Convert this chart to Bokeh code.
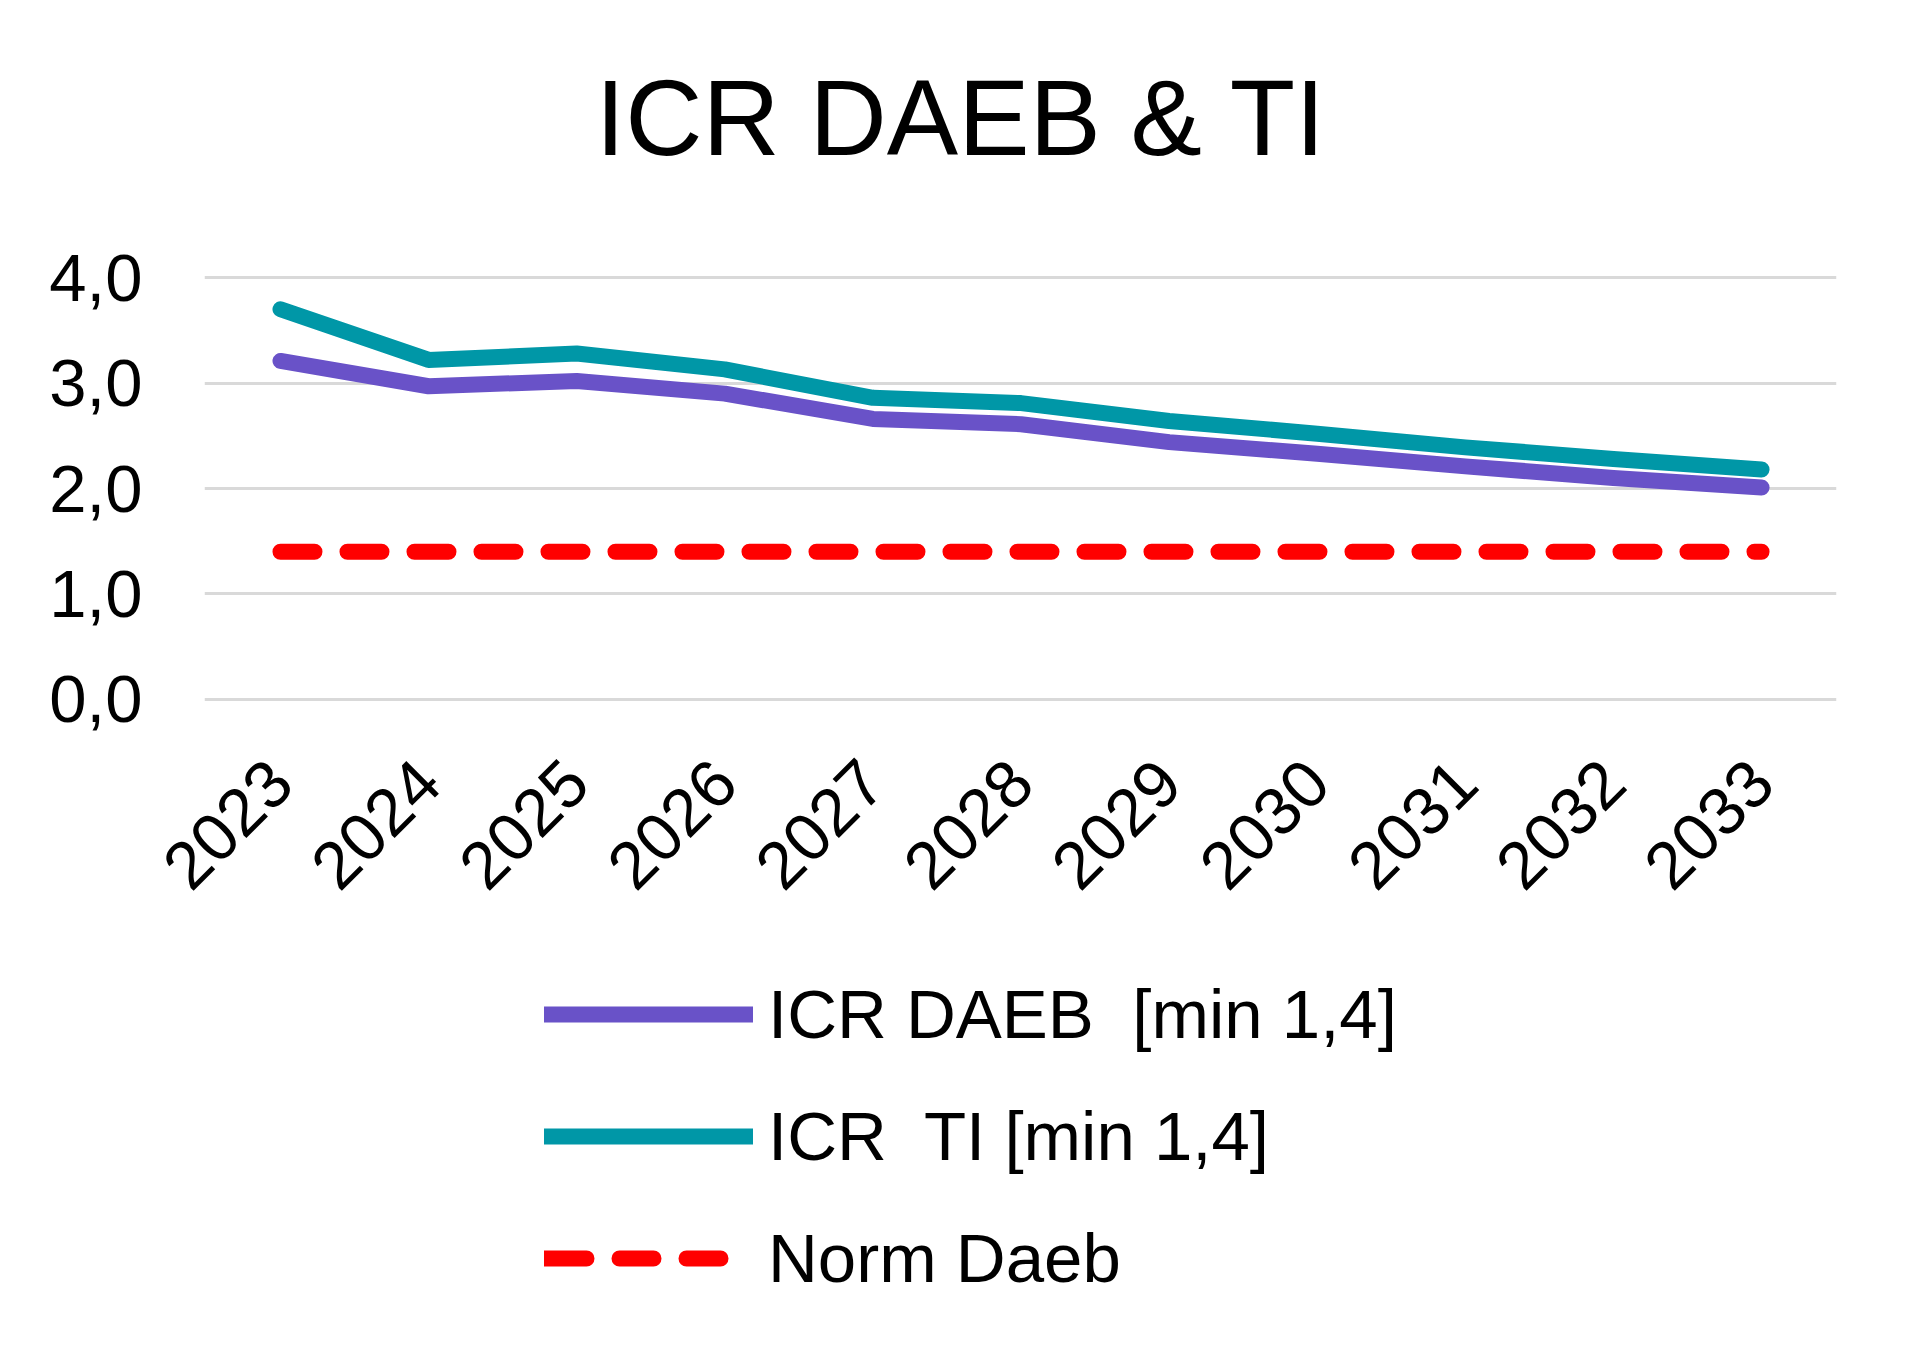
import math
from bokeh.plotting import figure
from bokeh.layouts import column
from bokeh.models import Range1d, FixedTicker, CustomJSTickFormatter, Legend, LegendItem, Title
from bokeh.embed import file_html
from bokeh.resources import INLINE

years = [2023, 2024, 2025, 2026, 2027, 2028, 2029, 2030, 2031, 2032, 2033]
icr_daeb = [3.21, 2.97, 3.02, 2.90, 2.66, 2.61, 2.44, 2.33, 2.21, 2.10, 2.01]
icr_ti = [3.70, 3.22, 3.28, 3.13, 2.86, 2.81, 2.64, 2.52, 2.39, 2.28, 2.18]
norm_daeb = [1.4] * len(years)
series_names = ["ICR DAEB  [min 1,4]", "ICR  TI [min 1,4]", "Norm Daeb"]
y_ticks = [0, 1, 2, 3, 4]
title_text = "ICR DAEB & TI"

FONT = "Liberation Sans"
PURPLE = "#6952c8"
TEAL = "#0097a7"
RED = "#ff0000"

W = 1904
H1, H2 = 960, 378
left, right, top, bottom = 204, 1836, 274, 702

p = figure(width=W, height=H1, output_backend="svg", toolbar_location=None, title=None,
           x_range=Range1d(2022.487, 2033.506), y_range=Range1d(-0.03, 4.03),
           min_border_left=left, min_border_right=W - right,
           min_border_top=top, min_border_bottom=H1 - bottom)
p.outline_line_color = None
p.background_fill_color = "white"
p.border_fill_color = "white"

# spacer between frame and title, then the title itself
p.add_layout(Title(text=" ", text_font_size="1px", standoff=94), "above")
p.add_layout(Title(text=title_text, text_font=FONT, text_font_size="107px",
                   text_font_style="normal", text_color="black",
                   align="left", offset=391, standoff=0), "above")

line_styles = [
    dict(line_width=16, line_color=PURPLE, line_cap="round", line_join="round"),
    dict(line_width=16, line_color=TEAL, line_cap="round", line_join="round"),
    dict(line_width=16, line_color=RED, line_cap="round", line_dash="34 33"),
]
p.line(years, icr_daeb, **line_styles[0])
p.line(years, icr_ti, **line_styles[1])
p.line(years, norm_daeb, **line_styles[2])

p.xaxis.ticker = FixedTicker(ticks=years)
p.xaxis.major_label_orientation = math.pi / 4
p.xaxis.major_label_standoff = 69
p.yaxis.ticker = FixedTicker(ticks=y_ticks)
p.yaxis.formatter = CustomJSTickFormatter(code="return tick.toFixed(1).replace('.', ',');")
p.yaxis.major_label_standoff = 62
for ax in (p.xaxis[0], p.yaxis[0]):
    ax.axis_line_color = None
    ax.major_tick_line_color = None
    ax.minor_tick_line_color = None
    ax.major_tick_out = 0
    ax.major_tick_in = 0
    ax.major_label_text_font = FONT
    ax.major_label_text_font_size = "67px"
    ax.major_label_text_color = "black"

p.xgrid.grid_line_color = None
p.ygrid.ticker = FixedTicker(ticks=y_ticks)
p.ygrid.grid_line_color = "#d9d9d9"
p.ygrid.grid_line_width = 3

# legend panel below the chart (series drawn off-range so only the legend shows);
# the legend sample is clipped to its box, so its dash is tuned to show three dashes
legend_styles = [dict(st) for st in line_styles]
legend_styles[2]["line_dash"] = "42 33 34 33 34 60"

q = figure(width=W, height=H2, output_backend="svg", toolbar_location=None,
           x_range=Range1d(0, 1), y_range=Range1d(0, 1),
           x_axis_type=None, y_axis_type=None,
           min_border_left=0, min_border_right=0, min_border_top=0, min_border_bottom=0)
q.outline_line_color = None
q.xgrid.visible = False
q.ygrid.visible = False
q.border_fill_color = "white"
q.background_fill_color = "white"
lr = [q.line(years, vals, **st) for vals, st in zip([icr_daeb, icr_ti, norm_daeb], legend_styles)]

legend = Legend(items=[LegendItem(label=n, renderers=[r]) for n, r in zip(series_names, lr)],
                location=(340, 35), orientation="vertical",
                glyph_width=209, glyph_height=90, label_height=90,
                label_standoff=15, spacing=32, padding=0, margin=0,
                label_text_font=FONT, label_text_font_size="69px",
                label_text_color="black",
                border_line_color=None, background_fill_alpha=0)
q.add_layout(legend, "center")

layout = column(p, q, spacing=0)
open("out.html", "w").write(file_html(layout, INLINE))
